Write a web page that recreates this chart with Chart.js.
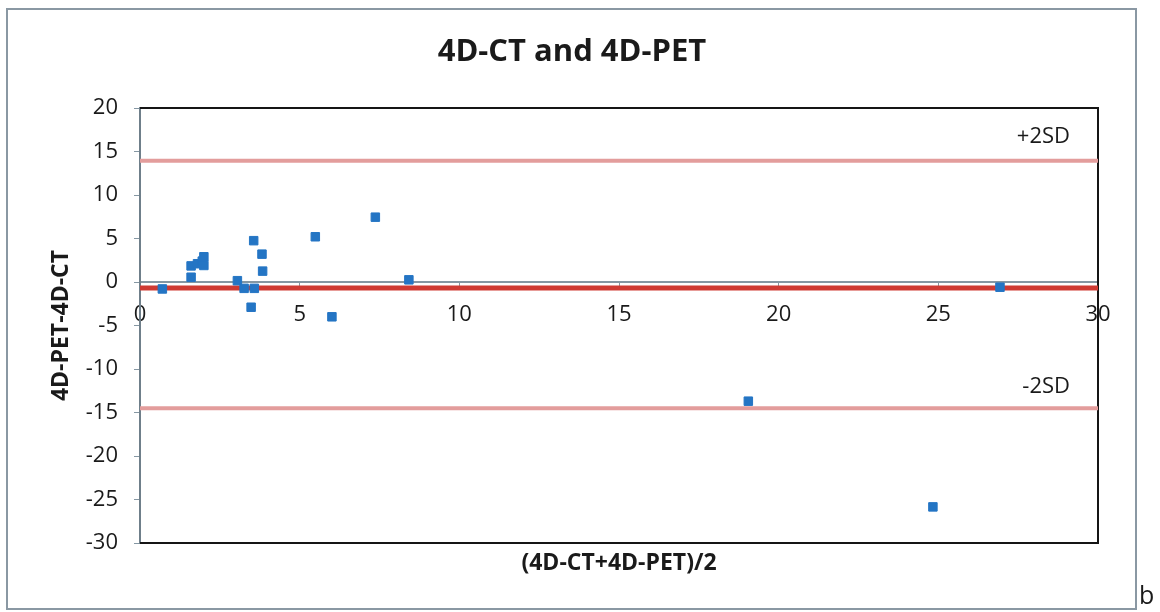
<!DOCTYPE html>
<html>
<head>
<meta charset="utf-8">
<script src="https://cdn.jsdelivr.net/npm/chart.js@4/dist/chart.umd.min.js"></script>
<style>
  html, body { margin: 0; padding: 0; background: #fff; }
  #wrap { width: 1160px; height: 612px; position: relative; }
</style>
</head>
<body>
<div id="wrap"><canvas id="chart"></canvas></div>
<script>
// ── Данные (Bland–Altman: среднее / разница) ───────────────────────────
const meanValues = [0.7, 1.6, 1.6, 1.8, 1.95, 2.0, 2.0, 3.05, 3.26, 3.58, 3.48, 3.56, 3.82, 3.84, 5.49, 6.01, 7.37, 8.42, 19.05, 24.83, 26.93];
const diffValues = [-0.8, 0.55, 1.85, 2.1, 2.4, 1.9, 2.9, 0.15, -0.73, -0.73, -2.9, 4.75, 3.2, 1.25, 5.2, -4.0, 7.45, 0.25, -13.7, -25.85, -0.6];

const biasLine   = -0.7;
const upperLimit = 13.95;
const lowerLimit = -14.5;
const limitLabels = ['+2SD', '-2SD'];

const xRange = [0, 30];
const yRange = [-30, 20];

const FONT = "'Open Sans', 'DejaVu Sans', sans-serif";

// ── Рамка, заголовки и подписи линий ───────────────────────────────────
const decorPlugin = {
  id: 'decor',
  beforeDraw(chart) {
    const { ctx } = chart;
    ctx.save();
    ctx.fillStyle = '#fff';
    ctx.fillRect(0, 0, chart.width, chart.height);
    ctx.strokeStyle = '#8a98a3';
    ctx.lineWidth = 2;
    ctx.strokeRect(7, 9, 1129, 600);
    ctx.restore();
  },
  beforeDatasetsDraw(chart) {
    const { ctx, chartArea: { left, right, top, bottom } } = chart;
    ctx.save();
    ctx.strokeStyle = '#151515';
    ctx.lineWidth = 2;
    ctx.beginPath();
    ctx.moveTo(left, top);
    ctx.lineTo(right, top);
    ctx.lineTo(right, bottom);
    ctx.lineTo(left, bottom);
    ctx.stroke();
    ctx.restore();
  },
  afterDraw(chart) {
    const { ctx, chartArea: { left, right } } = chart;
    const xs = chart.scales.x, ys = chart.scales.y;
    ctx.save();
    ctx.fillStyle = '#1a1a1a';
    ctx.textAlign = 'center';
    ctx.textBaseline = 'middle';
    ctx.font = `700 31px ${FONT}`;
    ctx.fillText('4D-CT and 4D-PET', 572, 52);
    ctx.font = `700 23px ${FONT}`;
    ctx.fillText('(4D-CT+4D-PET)/2', (left + right) / 2, 563);
    // подписи ±2SD
    ctx.font = `400 22px ${FONT}`;
    ctx.textAlign = 'right';
    const xr = xs.getPixelForValue(xRange[1]) - 28;
    ctx.fillText(limitLabels[0], xr, ys.getPixelForValue(upperLimit) - 24);
    ctx.fillText(limitLabels[1], xr, ys.getPixelForValue(lowerLimit) - 21);
    // буква панели
    ctx.textAlign = 'left';
    ctx.font = `400 25px ${FONT}`;
    ctx.fillText('b', 1139, 597);
    ctx.restore();
  },
};

function hLine(value, color, width) {
  return {
    type: 'line',
    data: xRange.map(x => ({ x, y: value })),
    borderColor: color,
    borderWidth: width,
    pointRadius: 0,
    showLine: true,
    order: 2,
  };
}

new Chart(document.getElementById('chart'), {
  type: 'scatter',
  data: {
    datasets: [
      {
        label: 'diff',
        data: meanValues.map((x, i) => ({ x, y: diffValues[i] })),
        pointStyle: 'rect',
        pointRadius: 6,
        backgroundColor: '#2475c4',
        borderColor: '#2475c4',
        borderWidth: 1,
        order: 0,
      },
      hLine(upperLimit, '#e39d9c', 4),
      hLine(lowerLimit, '#e39d9c', 4),
      hLine(biasLine, '#cf3a33', 5),
    ],
  },
  options: {
    responsive: true,
    maintainAspectRatio: false,
    animation: false,
    layout: { padding: { top: 108, right: 62, bottom: 69, left: 0 } },
    plugins: {
      legend: { display: false },
      tooltip: { enabled: false },
      title: { display: false },
    },
    scales: {
      x: {
        type: 'linear',
        position: { y: 0 },
        min: xRange[0],
        max: xRange[1],
        ticks: {
          stepSize: 5,
          color: '#1a1a1a',
          padding: 15,
          maxRotation: 0,
          font: { family: FONT, size: 22 },
        },
        grid: { drawOnChartArea: false, drawTicks: true, tickLength: 5, color: '#8597a3' },
        border: { display: true, color: '#8597a3', width: 2 },
      },
      y: {
        type: 'linear',
        min: yRange[0],
        max: yRange[1],
        afterFit: s => { s.width = 140; },
        ticks: {
          stepSize: 5,
          color: '#1a1a1a',
          padding: 16,
          font: { family: FONT, size: 22 },
        },
        grid: { drawOnChartArea: false, drawTicks: true, tickLength: 6, color: '#8597a3' },
        border: { display: true, color: '#6f7f8a', width: 2 },
        title: {
          display: true,
          text: '4D-PET-4D-CT',
          color: '#1a1a1a',
          font: { family: FONT, size: 23, weight: '700' },
          padding: { top: 48, bottom: 0 },
        },
      },
    },
  },
  plugins: [decorPlugin],
});
</script>
</body>
</html>
